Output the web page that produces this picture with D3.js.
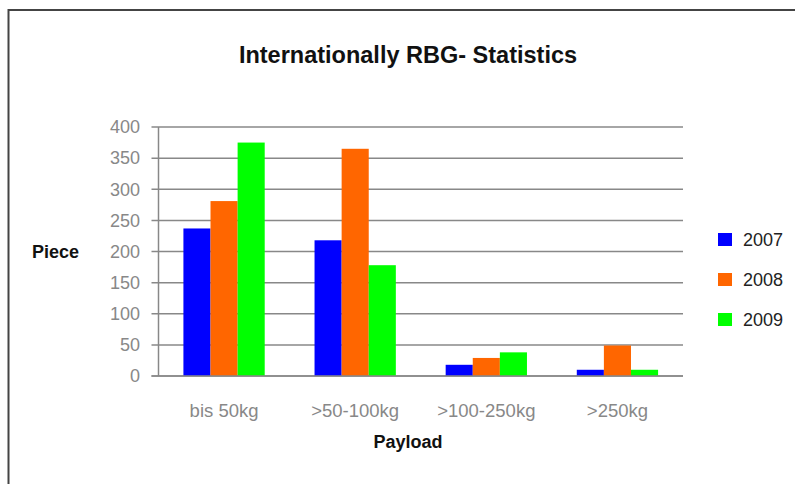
<!DOCTYPE html>
<html>
<head>
<meta charset="utf-8">
<script src="https://cdn.jsdelivr.net/npm/d3@7"></script>
<style>
  html, body { margin: 0; padding: 0; background: #fff; }
  svg { display: block; }
</style>
</head>
<body>
<svg id="chart" width="795" height="484"></svg>
<script>
// Payload classes and yearly piece counts
const categories = ["bis 50kg", ">50-100kg", ">100-250kg", ">250kg"];
const years = ["2007", "2008", "2009"];
const values2007 = [237, 218, 18, 10];
const values2008 = [281, 365, 29, 49];
const values2009 = [375, 178, 38, 10];
const yTicks = [0, 50, 100, 150, 200, 250, 300, 350, 400];
const colors = ["#0000ff", "#ff6600", "#00ff00"];

const series = [values2007, values2008, values2009];

const svg = d3.select("#chart");
const font = "'Liberation Sans', Arial, sans-serif";

// Frame around the chart area
svg.append("rect")
  .attr("x", 8.5).attr("y", 10)
  .attr("width", 800).attr("height", 500)
  .attr("fill", "none")
  .attr("stroke", "#444")
  .attr("stroke-width", 2);

const plot = { left: 158.5, right: 683, top: 127, bottom: 376 };

const x = d3.scaleBand()
  .domain(categories)
  .range([plot.left, plot.right])
  .paddingInner(0.38)
  .paddingOuter(0.19);

const xInner = d3.scaleBand()
  .domain(years)
  .range([0, x.bandwidth()]);

const y = d3.scaleLinear()
  .domain([0, 400])
  .range([plot.bottom, plot.top]);

// Horizontal grid lines with short ticks left of the axis
const grid = svg.append("g");
grid.selectAll("line")
  .data(yTicks)
  .join("line")
  .attr("x1", plot.left - 7)
  .attr("x2", plot.right)
  .attr("y1", d => y(d))
  .attr("y2", d => y(d))
  .attr("stroke", "#888")
  .attr("stroke-width", 1.5);

// Vertical axis line
svg.append("line")
  .attr("x1", plot.left).attr("x2", plot.left)
  .attr("y1", plot.top).attr("y2", plot.bottom)
  .attr("stroke", "#888")
  .attr("stroke-width", 1.5);

// Y tick labels
svg.append("g").selectAll("text")
  .data(yTicks)
  .join("text")
  .attr("x", 140)
  .attr("y", d => y(d))
  .attr("dy", "0.35em")
  .attr("text-anchor", "end")
  .attr("font-family", font)
  .attr("font-size", 18)
  .attr("fill", "#888")
  .text(d => d);

// Bars
const groups = svg.append("g").selectAll("g")
  .data(categories)
  .join("g")
  .attr("transform", c => `translate(${x(c)},0)`);

groups.selectAll("rect")
  .data((c, i) => years.map((yr, j) => ({ yr, j, v: series[j][i] })))
  .join("rect")
  .attr("x", d => xInner(d.yr))
  .attr("width", xInner.bandwidth())
  .attr("y", d => y(d.v))
  .attr("height", d => y(0) - y(d.v))
  .attr("fill", d => colors[d.j]);

// Redraw baseline on top of bars
svg.append("line")
  .attr("x1", plot.left - 7).attr("x2", plot.right)
  .attr("y1", y(0)).attr("y2", y(0))
  .attr("stroke", "#888")
  .attr("stroke-width", 1.5);

// X category labels
svg.append("g").selectAll("text")
  .data(categories)
  .join("text")
  .attr("x", c => x(c) + x.bandwidth() / 2)
  .attr("y", 417)
  .attr("text-anchor", "middle")
  .attr("font-family", font)
  .attr("font-size", 18.5)
  .attr("fill", "#888")
  .text(c => c);

// Title
svg.append("text")
  .attr("x", 408).attr("y", 63)
  .attr("text-anchor", "middle")
  .attr("font-family", font)
  .attr("font-size", 23.5)
  .attr("font-weight", "bold")
  .attr("fill", "#111")
  .text("Internationally RBG- Statistics");

// Axis titles
svg.append("text")
  .attr("x", 32).attr("y", 258)
  .attr("font-family", font)
  .attr("font-size", 18)
  .attr("font-weight", "bold")
  .attr("fill", "#111")
  .text("Piece");

svg.append("text")
  .attr("x", 408).attr("y", 448)
  .attr("text-anchor", "middle")
  .attr("font-family", font)
  .attr("font-size", 18)
  .attr("font-weight", "bold")
  .attr("fill", "#111")
  .text("Payload");

// Legend
const legend = svg.append("g").selectAll("g")
  .data(years)
  .join("g")
  .attr("transform", (d, i) => `translate(718,${233 + i * 40})`);

legend.append("rect")
  .attr("width", 14).attr("height", 13)
  .attr("fill", (d, i) => colors[i]);

legend.append("text")
  .attr("x", 25).attr("y", 7)
  .attr("dy", "0.35em")
  .attr("font-family", font)
  .attr("font-size", 18)
  .attr("fill", "#222")
  .text(d => d);
</script>
</body>
</html>
